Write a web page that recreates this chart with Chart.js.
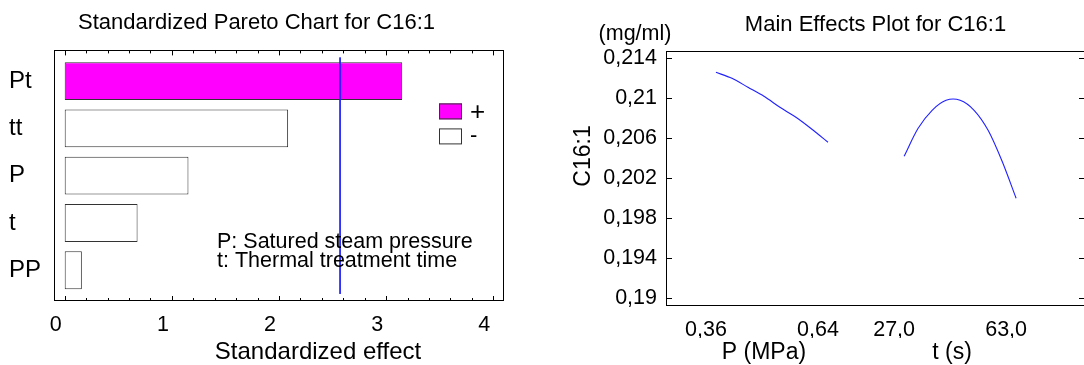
<!DOCTYPE html>
<html>
<head>
<meta charset="utf-8">
<script src="https://cdn.jsdelivr.net/npm/chart.js@4.4.1/dist/chart.umd.min.js"></script>
<style>
  html, body { margin: 0; padding: 0; background: #fff; overflow: hidden; }
  #wrapPareto  { position: absolute; left: 0;     top: 0; width: 540px; height: 365px; }
  #wrapEffects { position: absolute; left: 540px; top: 0; width: 560px; height: 365px; }
</style>
</head>
<body>
<div id="wrapPareto"><canvas id="chartPareto"></canvas></div>
<div id="wrapEffects"><canvas id="chartEffects"></canvas></div>
<script>
// ─── DATA ─────────────────────────────────────────────────────────────────────
const effectNames   = ['Pt', 'tt', 'P', 't', 'PP'];
const effectValues  = [3.15, 2.085, 1.155, 0.68, 0.16];
const effectSigns   = ['+', '-', '-', '-', '-'];
const criticalValue = 2.57;
const paretoTicks   = [0, 1, 2, 3, 4];
const factorNotes   = ['P: Satured steam pressure', 't: Thermal treatment time'];

const pLevels = [0.36, 0.40, 0.44, 0.48, 0.52, 0.56, 0.60, 0.64];
const pEffect = [0.2126, 0.2120, 0.2111, 0.2102, 0.2091, 0.2081, 0.2069, 0.2056];
const tLevels = [27, 31.5, 36, 40.5, 45, 49.5, 54, 58.5, 63];
const tEffect = [0.2042, 0.2070, 0.2088, 0.2098, 0.2098, 0.2088, 0.2068, 0.2037, 0.2000];
const xTickLabels     = ['0,36', '0,64', '27,0', '63,0'];
const factorAxisNames = ['P (MPa)', 't (s)'];
const effectYTicks    = [0.19, 0.194, 0.198, 0.202, 0.206, 0.21, 0.214];

// ─── DEFAULTS ─────────────────────────────────────────────────────────────────
const FAMILY = "'Liberation Sans', Arial, sans-serif";
Chart.defaults.font.family = FAMILY;
Chart.defaults.color = '#000';
Chart.defaults.animation = false;

const signFill = { '+': '#ff00ff', '-': '#ffffff' };
const noGrid   = { display: false, drawTicks: false };

// ─── PARETO ───────────────────────────────────────────────────────────────────
const paretoDecor = {
  id: 'paretoDecor',
  afterDraw(chart) {
    const { ctx, chartArea: a, scales: { x } } = chart;
    ctx.save();
    ctx.strokeStyle = '#000';
    ctx.lineWidth = 1;
    ctx.strokeRect(Math.round(a.left) + 0.5, Math.round(a.top) + 0.5,
                   Math.round(a.right - a.left) - 1, Math.round(a.bottom - a.top) - 1);

    // inward tick marks, top and bottom
    for (let k = 0; k <= 20; k++) {
      const px = Math.round(x.getPixelForValue(k * 0.2)) + 0.5;
      const len = k % 5 === 0 ? 5 : 3;
      ctx.beginPath();
      ctx.moveTo(px, a.top);    ctx.lineTo(px, a.top + len);
      ctx.moveTo(px, a.bottom); ctx.lineTo(px, a.bottom - len);
      ctx.stroke();
    }

    // legend
    const lx = a.right - 65;
    ['+', '-'].forEach((s, i) => {
      const ly = a.top + 53 + i * 25;
      ctx.fillStyle = signFill[s];
      ctx.fillRect(lx, ly, 23, 16);
      ctx.strokeStyle = '#333';
      ctx.strokeRect(lx + 0.5, ly + 0.5, 22, 15);
      ctx.fillStyle = '#000';
      ctx.font = `${s === '+' ? 26 : 22}px ${FAMILY}`;
      ctx.textBaseline = 'middle';
      ctx.textAlign = 'left';
      ctx.fillText(s, lx + 31, ly + 8 + (s === '-' ? 0 : 1));
    });

    // notes
    ctx.font = `21.5px ${FAMILY}`;
    factorNotes.forEach((n, i) => ctx.fillText(n, a.left + 163, a.bottom - 59 + i * 19));

    // axis title
    ctx.font = `24px ${FAMILY}`;
    ctx.textAlign = 'center';
    ctx.fillText('Standardized effect', (a.left + a.right) / 2 + 39, 352);
    ctx.restore();
  },
};

new Chart(document.getElementById('chartPareto'), {
  type: 'bar',
  data: {
    datasets: [
      {
        type: 'line',
        data: [{ x: criticalValue, y: -0.5 }, { x: criticalValue, y: effectNames.length - 0.5 }],
        borderColor: '#2020ff',
        borderWidth: 1,
        pointRadius: 0,
        order: 0,
      },
      {
        data: effectValues.map((v, i) => ({ x: v, y: i })),
        backgroundColor: effectSigns.map(s => signFill[s]),
        borderColor: '#333',
        borderWidth: 1,
        borderSkipped: false,
        barPercentage: 1,
        categoryPercentage: 0.8,
        order: 1,
      },
    ],
  },
  options: {
    indexAxis: 'y',
    responsive: true, maintainAspectRatio: false,
    events: [],
    layout: { padding: { left: 9, right: 36 } },
    plugins: {
      legend: { display: false },
      tooltip: { enabled: false },
      title: {
        display: true,
        text: 'Standardized Pareto Chart for C16:1',
        font: { size: 22, weight: 'normal' },
        color: '#000',
        padding: { top: 10, bottom: 14 },
      },
    },
    scales: {
      x: {
        type: 'linear', min: -0.1, max: 4.1,
        afterBuildTicks: s => { s.ticks = paretoTicks.map(v => ({ value: v })); },
        afterFit: s => { s.height = 64; },
        grid: noGrid, border: { display: false },
        ticks: { font: { size: 21.5 }, padding: 11, labelOffset: -9, autoSkip: false, maxRotation: 0 },
      },
      y: {
        type: 'linear', reverse: true, offset: false,
        min: -0.65, max: effectNames.length - 0.35,
        afterBuildTicks: s => { s.ticks = effectNames.map((_, i) => ({ value: i })); },
        afterFit: s => { s.width = 45; },
        grid: { display: false, drawTicks: false, offset: false }, border: { display: false },
        ticks: { font: { size: 24 }, crossAlign: 'far', autoSkip: false, callback: v => effectNames[v] },
      },
    },
  },
  plugins: [paretoDecor],
});

// ─── MAIN EFFECTS ─────────────────────────────────────────────────────────────
const T_OFFSET = 1.68;
const posP = p => (p - pLevels[0]) / (pLevels[pLevels.length - 1] - pLevels[0]);
const posT = t => T_OFFSET + (t - tLevels[0]) / (tLevels[tLevels.length - 1] - tLevels[0]);
const X_MIN = -0.446, X_MAX = 3.295;

const xTickValues = [
  posP(pLevels[0]), posP(pLevels[pLevels.length - 1]),
  posT(tLevels[0]), posT(tLevels[tLevels.length - 1]),
];
const factorCenters = [
  (xTickValues[0] + xTickValues[1]) / 2,
  (xTickValues[2] + xTickValues[3]) / 2,
];

const effectsDecor = {
  id: 'effectsDecor',
  afterDraw(chart) {
    const { ctx, chartArea: a, scales: { y } } = chart;
    ctx.save();
    ctx.strokeStyle = '#000';
    ctx.lineWidth = 1;
    ctx.strokeRect(Math.round(a.left) + 0.5, Math.round(a.top) + 0.5,
                   Math.round(a.right - a.left) - 1, Math.round(a.bottom - a.top) - 1);
    for (const v of effectYTicks) {
      const py = Math.round(y.getPixelForValue(v)) + 0.5;
      ctx.beginPath();
      ctx.moveTo(a.left, py);  ctx.lineTo(a.left + 6, py);
      ctx.moveTo(a.right, py); ctx.lineTo(a.right - 6, py);
      ctx.stroke();
    }
    ctx.fillStyle = '#000';
    ctx.textAlign = 'center';
    ctx.textBaseline = 'middle';
    ctx.font = `21.5px ${FAMILY}`;
    ctx.fillText('(mg/ml)', a.left - 31, a.top - 17);

    ctx.translate(a.left - 82, a.top + 105);
    ctx.rotate(-Math.PI / 2);
    ctx.font = `23px ${FAMILY}`;
    ctx.fillText('C16:1', 0, 0);
    ctx.restore();
  },
};

const curveStyle = {
  type: 'line',
  borderColor: '#2020ff',
  borderWidth: 1.1,
  pointRadius: 0,
  tension: 0.3,
  fill: false,
};

new Chart(document.getElementById('chartEffects'), {
  type: 'line',
  data: {
    datasets: [
      { ...curveStyle, data: pLevels.map((p, i) => ({ x: posP(p), y: pEffect[i] })) },
      { ...curveStyle, data: tLevels.map((t, i) => ({ x: posT(t), y: tEffect[i] })) },
    ],
  },
  options: {
    responsive: true, maintainAspectRatio: false,
    events: [],
    layout: { padding: { left: 0, right: 15 } },
    plugins: {
      legend: { display: false },
      tooltip: { enabled: false },
      title: {
        display: true,
        fullSize: false,
        text: 'Main Effects Plot for C16:1',
        font: { size: 22, weight: 'normal' },
        color: '#000',
        padding: { top: 12, bottom: 12.6 },
      },
    },
    scales: {
      x: {
        type: 'linear', position: 'bottom', min: X_MIN, max: X_MAX,
        afterBuildTicks: s => { s.ticks = xTickValues.map(v => ({ value: v })); },
        afterFit: s => { s.height = 32; },
        grid: noGrid, border: { display: false },
        ticks: { font: { size: 21.5 }, padding: 11, labelOffset: -10, autoSkip: false, maxRotation: 0,
                 callback: (v, i) => xTickLabels[i] },
      },
      x2: {
        type: 'linear', position: 'bottom', weight: 1, min: X_MIN, max: X_MAX,
        afterBuildTicks: s => { s.ticks = factorCenters.map(v => ({ value: v })); },
        afterFit: s => { s.height = 27; },
        grid: noGrid, border: { display: false },
        ticks: { font: { size: 23 }, padding: 1, labelOffset: -8, autoSkip: false, maxRotation: 0,
                 callback: (v, i) => factorAxisNames[i] },
      },
      y: {
        type: 'linear', min: 0.18923, max: 0.21473,
        afterBuildTicks: s => { s.ticks = effectYTicks.map(v => ({ value: v })); },
        afterFit: s => { s.width = 126; },
        grid: noGrid, border: { display: false },
        ticks: { font: { size: 21.5 }, padding: 9, autoSkip: false,
                 callback: v => String(+v.toFixed(3)).replace('.', ',') },
      },
    },
  },
  plugins: [effectsDecor],
});
</script>
</body>
</html>
